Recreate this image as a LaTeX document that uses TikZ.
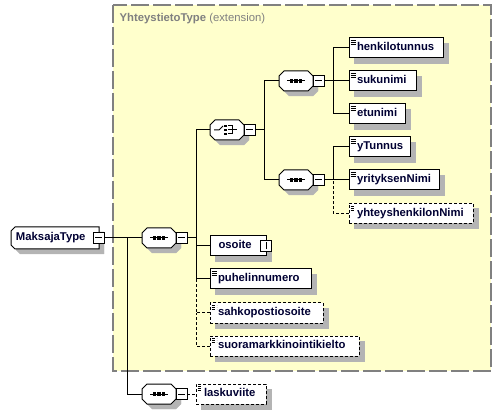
\documentclass[tikz,border=0pt]{standalone}
\usepackage{fontspec}
\setmainfont{Liberation Sans}
\definecolor{txt}{HTML}{000033}
\definecolor{ylw}{HTML}{FFFFCC}
\definecolor{framec}{HTML}{808080}
\definecolor{shadowgray}{HTML}{B4B4B4}
\tikzset{
  lbl/.style={font=\fontsize{11.3pt}{13pt}\selectfont\bfseries, text=txt, text height=8.2pt, text depth=2.4pt},
  elem/.style={draw, fill=white, line width=1pt, lbl, minimum height=20pt, inner sep=0pt, outer sep=0pt,
    anchor=west, text width=#1, align=left,
    path picture={
      \foreach \k in {2.5,4.5,6.5}
        \draw[line width=0.8pt] ([shift={(1.5pt,-\k pt)}]path picture bounding box.north west) -- ++(5pt,0);
    }},
  ctype/.style={draw, fill=white, line width=1pt, lbl, minimum height=20pt, inner sep=0pt, outer sep=0pt,
    anchor=west, text width=#1, align=left},
  opt/.style={dash pattern=on 3pt off 2pt},
  cbox/.style={rectangle, minimum width=34pt, minimum height=20pt, inner sep=0pt, outer sep=0pt, anchor=west},
  outline/.style={draw, fill=white, line width=1pt},
  shadowfill/.style={draw=shadowgray, fill=shadowgray, line width=0.2pt},
  dotfill/.style={fill=black},
  mbox/.style={draw, fill=white, line width=1pt, minimum size=11pt, inner sep=0pt, outer sep=0pt, anchor=west,
    path picture={\draw[line width=1pt] ([xshift=-3.5pt]path picture bounding box.center) -- ([xshift=3.5pt]path picture bounding box.center);}},
  pbox/.style={mbox, path picture={\draw[line width=1pt] ([yshift=-3.5pt]path picture bounding box.center) -- ([yshift=3.5pt]path picture bounding box.center);}},
  conn/.style={line width=1pt},
}
% octagon outline around a 34x20 compositor node (offset #2)
\newcommand\octo[2]{([shift={(#2)}]#1.north west) ++(5pt,0) -- ++(24pt,0) -- ++(5pt,-5pt) -- ++(0,-10pt)
  -- ++(-5pt,-5pt) -- ++(-24pt,0) -- ++(-5pt,5pt) -- ++(0,10pt) -- cycle}
\newcommand\seqsym[1]{%
  \draw[line width=1pt] ([xshift=-9pt]#1.center) -- ([xshift=9pt]#1.center);
  \foreach \d in {-4.5,0,4.5}
    \path[dotfill] ([shift={(\d pt-1.6pt,-1.6pt)}]#1.center) rectangle ++(3.2pt,3.2pt);}
\newcommand\chosym[1]{%
  \draw[line width=1pt] ([xshift=-13pt]#1.center) -- ([xshift=-8pt]#1.center) -- ([shift={(-4pt,4pt)}]#1.center);
  \foreach \d in {-4,0,4}
    \path[dotfill] ([shift={(-2.7pt,\d pt-1.3pt)}]#1.center) rectangle ++(2.6pt,2.6pt);
  \draw[line width=1pt] ([shift={(1pt,4pt)}]#1.center) -- ([shift={(5pt,4pt)}]#1.center)
     -- ([shift={(5pt,-4pt)}]#1.center) -- ([shift={(1pt,-4pt)}]#1.center);
  \draw[line width=1pt] ([shift={(1pt,0pt)}]#1.center) -- ([shift={(10pt,0pt)}]#1.center);}
% compositor: name, x, y, symbol macro
\newcommand\compo[4]{%
  \node[cbox] (#1) at (#2,#3) {};
  \path[shadowfill] \octo{#1}{5pt,-5pt};
  \path[outline] \octo{#1}{0pt,0pt};
  #4{#1}%
  \node[mbox] (#1m) at (#1.east) {};}
% element: [style] name, x, y, width, text
\newcommand\elemnode[6][]{%
  \path[shadowfill] (#3+5,#4-5) rectangle (#3+#5+5,#4+15);
  \node[elem=#5pt, #1] (#2) at (#3,#4) {\hspace*{8pt}#6};}
\begin{document}
\begin{tikzpicture}[x=1pt,y=-1pt]
\useasboundingbox (0,0) rectangle (501,414);
% extension frame
\draw[framec, fill=ylw, line width=1.2pt, dash pattern=on 18pt off 4pt] (113,5) rectangle (491,371);
\node[anchor=west, inner sep=0pt, font=\fontsize{11.3pt}{13pt}\selectfont, text=framec] (title) at (119.5,19)
  {\textbf{YhteystietoType} (extension)};

% root
\path[shadowfill] (20,232) -- (104,232) -- (104,254) -- (20,254) -- (16,250) -- (16,236) -- cycle;
\path[outline] (15,227) -- (99,227) -- (99,249) -- (15,249) -- (11,245) -- (11,231) -- cycle;
\node[lbl, minimum height=22pt, inner sep=0pt, outer sep=0pt, anchor=west, text width=88pt, align=left]
  (mk) at (11,238) {\hspace*{5pt}MaksajaType};
\node[mbox, anchor=center] (mkm) at (98.5,238) {};

% compositors
\compo{s1}{142}{238}{\seqsym}
\compo{ch}{210}{130}{\chosym}
\compo{s2}{279}{81}{\seqsym}
\compo{s3}{279}{180}{\seqsym}
\compo{s4}{142}{394}{\seqsym}

% elements
\elemnode{henk}{349}{48}{94}{henkilotunnus}
\elemnode{suku}{349}{81}{67}{sukunimi}
\elemnode{etu}{349}{114}{56}{etunimi}
\elemnode{ytun}{349}{147}{61}{yTunnus}
\elemnode{yrit}{349}{180}{90}{yrityksenNimi}
\elemnode[opt]{yht}{349}{213.5}{124}{yhteyshenkilonNimi}
\path[shadowfill] (215,241) rectangle (271,261);
\node[ctype=56pt] (oso) at (210,246) {\hspace*{8.5pt}osoite};
\node[pbox, anchor=center] (osop) at (266,246) {};
\elemnode{puh}{210}{279}{101}{puhelinnumero}
\elemnode[opt]{sah}{210}{313}{113}{sahkopostiosoite}
\elemnode[opt]{suo}{210}{346}{149}{suoramarkkinointikielto}
\elemnode[opt]{lask}{196}{394}{70}{laskuviite}

% junction points
\coordinate (b1) at (127,238);
\coordinate (v1) at (196,238);
\coordinate (v1p) at (196,279);
\coordinate (v1s) at (196,313);
\coordinate (v2) at (264,130);
\coordinate (v3) at (333,81);
\coordinate (v4) at (333,180);

% connectors
\draw[conn] (mkm.east) -- (s1.west);
\draw[conn] (b1) |- (s4.west);
\draw[conn] (s1m.east) -- (v1);
\draw[conn] (ch.west) -| (v1);
\draw[conn] (oso.west) -| (v1);
\draw[conn] (puh.west) -| (v1);
\draw[conn, opt] (sah.west) -| (v1p);
\draw[conn, opt] (suo.west) -| (v1s);
\draw[conn] (chm.east) -- (v2);
\draw[conn] (s2.west) -| (v2);
\draw[conn] (s3.west) -| (v2);
\draw[conn] (s2m.east) -- (suku.west);
\draw[conn] (henk.west) -| (v3);
\draw[conn] (etu.west) -| (v3);
\draw[conn] (s3m.east) -- (yrit.west);
\draw[conn] (ytun.west) -| (v4);
\draw[conn, opt] (yht.west) -| (v4);
\draw[conn, opt] (s4m.east) -- (lask.west);
\end{tikzpicture}
\end{document}
